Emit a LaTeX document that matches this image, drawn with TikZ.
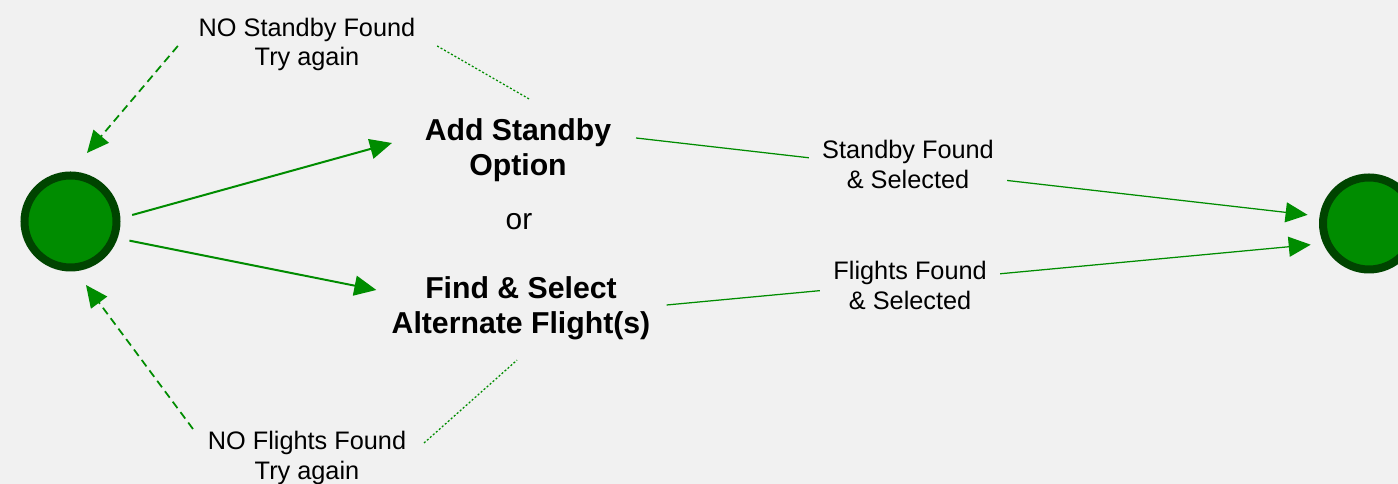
\documentclass[tikz,border=0pt]{standalone}
\usepackage{fontspec}
\setmainfont{Liberation Sans}
\usetikzlibrary{arrows.meta,positioning,calc}
\definecolor{pagegray}{RGB}{241,241,241}
\definecolor{flowgreen}{RGB}{0,140,0}
\definecolor{darkgreen}{RGB}{0,68,0}

\begin{document}
\begin{tikzpicture}[
    state/.style={circle, draw=darkgreen, fill=flowgreen, line width=1.6mm,
                  minimum size=1.84cm, inner sep=0pt, outer sep=3.2mm},
    task/.style={inner sep=0pt, align=center, font=\fontsize{17.2}{20.1}\selectfont\bfseries},
    note/.style={inner sep=0pt, align=center, font=\fontsize{14.4}{16.9}\selectfont},
    cond/.style={note, text=black, fill=pagegray, inner xsep=2.6mm, inner ysep=1mm},
    arr/.style={-{Triangle[length=4.4mm, width=4mm]}, line width=0.4mm, flowgreen},
    retry/.style={arr, line width=0.35mm, dash pattern=on 1.6mm off 1mm},
    done/.style={arr, line width=0.25mm},
    link/.style={flowgreen, line width=0.25mm, dash pattern=on 0.4mm off 0.4mm}
]
    \fill[pagegray] (0,0) rectangle (27.96,9.68);
    \useasboundingbox (0,0) rectangle (27.96,9.68);

    \node[state] (start) at (1.41,5.25) {};
    \node[state] (finish) at (27.38,5.21) {};
    \node[task] (standby) at (10.36,6.68) {Add Standby\\Option};
    \node[note, font=\fontsize{17}{20}\selectfont] (or) at (10.38,5.24) {or};
    \node[task] (find) at (10.42,3.52) {Find \& Select\\Alternate Flight(s)};
    \node[note] (nostandby) at (6.14,8.79) {NO Standby Found\\Try again};
    \node[note] (noflights) at (6.14,0.52) {NO Flights Found\\Try again};

    \draw[arr] (start.6) -- ([shift={(-0.65,0.14)}]standby.west);
    \draw[arr] (start.-18) -- ([shift={(-0.30,0.36)}]find.west);
    \draw[retry] ([shift={(-0.41,-0.03)}]nostandby.west) -- ([shift={(0.33,0.13)}]start.north);
    \draw[retry] ([shift={(-0.29,0.58)}]noflights.west) -- ([shift={(0.31,-0.03)}]start.south);
    \draw[link] ([shift={(0.43,-0.03)}]nostandby.east) -- ([shift={(0.22,0.38)}]standby.north);
    \draw[link] ([shift={(0.35,0.30)}]noflights.east) -- ([shift={(-0.08,-0.40)}]find.south);
    \draw[done] ([shift={(0.49,0.24)}]standby.east)
        -- node[cond, pos=.405, yshift=0.9mm] (gotstandby) {Standby Found\\\& Selected} (finish.172);
    \draw[done] ([shift={(0.32,0.06)}]find.east)
        -- node[cond, pos=.378, yshift=-0.6mm] (gotflights) {Flights Found\\\& Selected} (finish.200);
\end{tikzpicture}
\end{document}
